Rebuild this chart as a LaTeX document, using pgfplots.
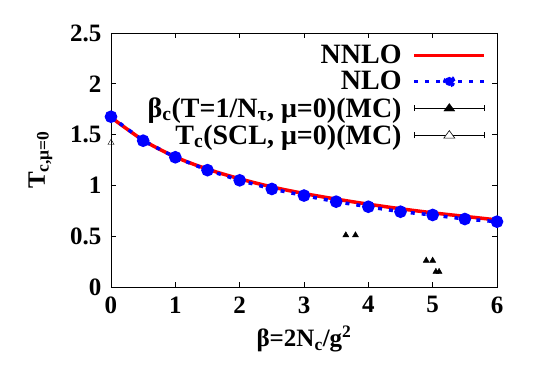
\documentclass[border=0pt]{standalone}
\usepackage{fontspec}
\setmainfont{Liberation Serif}
\usepackage{pgfplots}
\pgfplotsset{compat=1.18}

\begin{document}
\begin{tikzpicture}
\begin{axis}[
    scale only axis,
    width=386pt, height=254pt,
    xmin=0, xmax=6, ymin=0, ymax=2.5,
    xtick={0,1,2,3,4,5,6},
    ytick={0,0.5,1,1.5,2,2.5},
    tick align=inside,
    major tick length=5pt,
    tick style={black, line width=0.6pt},
    axis line style={line width=0.8pt},
    xticklabel style={font=\fontsize{25}{26}\selectfont\bfseries, yshift=-6pt},
    yticklabel style={font=\fontsize{25}{26}\selectfont\bfseries, xshift=-6pt},
    /pgf/number format/assume math mode=true,
    xlabel={\fontsize{25}{26}\selectfont\bfseries β=2N\textsubscript{c}/g\textsuperscript{2}},
    ylabel={\fontsize{25}{26}\selectfont\bfseries T\textsubscript{c,μ=0}},
    xlabel style={yshift=-6pt},
    ylabel style={yshift=11pt},
    legend cell align=right,
    legend plot pos=right,
    legend style={draw=none, fill=none, at={(0.98,0.96)}, anchor=north east,
        font=\fontsize{28}{28}\selectfont\bfseries, row sep=6pt,
        nodes={inner sep=0pt},
        /tikz/every odd column/.append style={column sep=11pt}},
]
\addplot[red, line width=3.5pt, smooth,
    legend image code/.code={\draw[red, line width=3.5pt] (0pt,0pt) -- (70pt,0pt);}]
coordinates {
    (0,1.670) (0.5,1.445) (1,1.280) (1.5,1.160) (2,1.065) (2.5,0.985)
    (3,0.920) (3.5,0.865) (4,0.815) (4.5,0.770) (5,0.730) (5.5,0.695) (6,0.660)
};
\addlegendentry{NNLO}
\addplot[blue, line width=3.5pt, dash pattern=on 4pt off 7pt,
    mark=*, mark size=4.5pt, mark options={solid, fill=blue},
    legend image code/.code={
        \draw[blue, line width=3.5pt, dash pattern=on 4pt off 7pt] (0pt,0pt) -- (70pt,0pt);
        \fill[blue] (35pt,0pt) circle (4.5pt);}]
coordinates {
    (0,1.676) (0.5,1.440) (1,1.277) (1.5,1.150) (2,1.050) (2.5,0.965)
    (3,0.900) (3.5,0.840) (4,0.790) (4.5,0.741) (5,0.709) (5.5,0.669) (6,0.643)
};
\addlegendentry{NLO}
\addplot[only marks, black, mark=triangle*, mark size=3.5pt,
    legend image code/.code={
        \draw[black, line width=0.6pt] (0pt,0pt) -- (70pt,0pt);
        \draw[black, line width=0.6pt] (0pt,-3pt) -- (0pt,3pt);
        \draw[black, line width=0.6pt] (70pt,-3pt) -- (70pt,3pt);
        \fill[black] (35pt,4.5pt) -- (29.5pt,-3pt) -- (40.5pt,-3pt) -- cycle;}]
coordinates {
    (3.65,0.51) (3.80,0.51) (4.90,0.26) (5.00,0.26) (5.05,0.15) (5.10,0.15)
};
\addlegendentry{β\textsubscript{c}(T=1/N\textsubscript{τ}, μ=0)(MC)}
\addplot[only marks, black, mark=triangle, mark size=3.5pt,
    legend image code/.code={
        \draw[black, line width=0.6pt] (0pt,0pt) -- (70pt,0pt);
        \draw[black, line width=0.6pt] (0pt,-3pt) -- (0pt,3pt);
        \draw[black, line width=0.6pt] (70pt,-3pt) -- (70pt,3pt);
        \draw[black, fill=white, line width=0.6pt] (35pt,4.5pt) -- (29.5pt,-3pt) -- (40.5pt,-3pt) -- cycle;}]
coordinates {
    (0,1.42)
};
\addlegendentry{T\textsubscript{c}(SCL, μ=0)(MC)}
\end{axis}
\useasboundingbox (-111pt,-95pt) rectangle (434pt,287pt);
\end{tikzpicture}
\end{document}
